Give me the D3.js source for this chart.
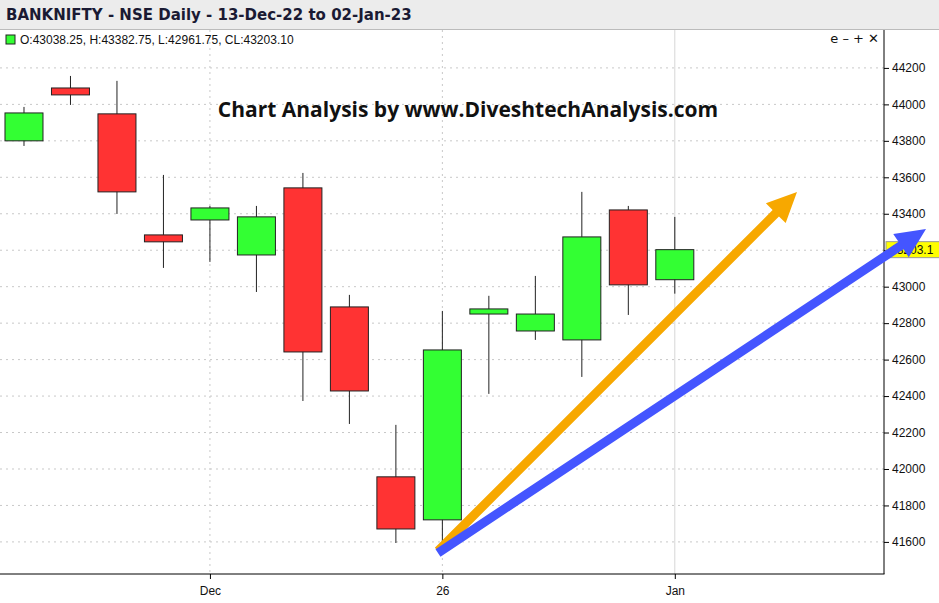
<!DOCTYPE html>
<html><head><meta charset="utf-8">
<script src="https://cdn.jsdelivr.net/npm/d3@7"></script>
<style>body{margin:0;background:#fff}svg{display:block}</style>
</head><body><svg id="c" width="939" height="603"></svg>
<script>
const dates=["13-Dec","14-Dec","15-Dec","16-Dec","19-Dec","20-Dec","21-Dec","22-Dec","23-Dec","26-Dec","27-Dec","28-Dec","29-Dec","30-Dec","02-Jan"];
const opens =[43800,44090,43948,43284,43366,43174,43542,42889,41957,41721,42850,42757,42708,43421,43038.25];
const highs =[43986,44156,44129,43613,43443,43443,43624,42955,42242,42867,42950,43059,43520,43443,43382.75];
const lows  =[43772,43997,43399,43103,43136,42971,42373,42247,41594,41605,42412,42708,42505,42845,42961.75];
const closes=[43953,44052,43520,43246,43432,43383,42642,42428,41671,42653,42878,42850,43273,43010,43203.10];
const yTicks=[41600,41800,42000,42200,42400,42600,42800,43000,43200,43400,43600,43800,44000,44200];
const xTickIdx=[4,9,14];
const xTickLabels=["Dec","26","Jan"];

const svg=d3.select("#c");
const L=0,R=884,T=30,B=574;
const x=d3.scaleLinear().domain([-0.516,18.5]).range([L,R]);
const y=d3.scaleLinear().domain([41424,44408]).range([B,T]);

// title bar
svg.append("rect").attr("x",0).attr("y",0).attr("width",939).attr("height",29).attr("fill","#ececec");
svg.append("text").attr("x",6).attr("y",20).attr("font-family","DejaVu Sans").attr("font-weight","bold")
 .attr("font-size",15).attr("fill","#1a1a33").text("BANKNIFTY - NSE Daily - 13-Dec-22 to 02-Jan-23");
svg.append("line").attr("x1",0).attr("x2",939).attr("y1",29.5).attr("y2",29.5).attr("stroke","#bbb");

// grid
const g=svg.append("g");
yTicks.forEach(v=>g.append("line").attr("x1",L).attr("x2",R).attr("y1",y(v)).attr("y2",y(v))
 .attr("stroke","#c8c8c8").attr("stroke-dasharray","2,4"));
xTickIdx.forEach((i,k)=>g.append("line").attr("x1",x(i)).attr("x2",x(i)).attr("y1",T).attr("y2",B)
 .attr("stroke",k==2?"#d6d6d6":"#c8c8c8").attr("stroke-dasharray",k==2?null:"2,4"));

// axes
const ya=d3.axisRight(y).tickValues(yTicks).tickSize(5).tickFormat(d3.format("d"));
const yg=svg.append("g").attr("transform",`translate(${R},0)`).call(ya);
yg.select(".domain").attr("d",`M0,${T}V${B}`);
yg.selectAll("text").attr("font-family","Liberation Sans, Arial").attr("font-size",12).attr("fill","#111");
const xa=d3.axisBottom(x).tickValues(xTickIdx).tickSize(5).tickFormat((d,i)=>xTickLabels[i]);
const xg=svg.append("g").attr("transform",`translate(0,${B})`).call(xa);
xg.select(".domain").attr("d",`M${L},0H${R+0.5}`);
xg.selectAll("text").attr("font-family","Liberation Sans, Arial").attr("font-size",12).attr("fill","#111").attr("dy","1.1em");

// candles
const bw=38;
const cg=svg.append("g");
dates.forEach((d,i)=>{
  const up=closes[i]>=opens[i];
  cg.append("line").attr("x1",x(i)).attr("x2",x(i)).attr("y1",y(highs[i])).attr("y2",y(lows[i])).attr("stroke","#222");
  const top=y(Math.max(opens[i],closes[i])),bot=y(Math.min(opens[i],closes[i]));
  cg.append("rect").attr("x",x(i)-bw/2).attr("y",top).attr("width",bw).attr("height",Math.max(1,bot-top))
   .attr("fill",up?"#33ff33":"#ff3333").attr("stroke","#222");
});

// legend
svg.append("rect").attr("x",6).attr("y",35).attr("width",9).attr("height",9).attr("fill","#33ff33").attr("stroke","#222");
const last=dates.length-1;
svg.append("text").attr("x",20).attr("y",44).attr("font-family","Liberation Sans, Arial").attr("font-size",12).attr("fill","#111")
 .text(`O:${opens[last].toFixed(2)}, H:${highs[last].toFixed(2)}, L:${lows[last].toFixed(2)}, CL:${closes[last].toFixed(2)}`);
svg.append("text").attr("x",879).attr("y",43).attr("text-anchor","end").attr("font-family","DejaVu Sans").attr("font-size",13).attr("fill","#111").text("e – + ✕");

// price label
svg.append("rect").attr("x",R+2).attr("y",y(closes[last])-8).attr("width",55).attr("height",16).attr("fill","#ffff00").attr("stroke","#999");
svg.append("text").attr("x",R+6).attr("y",y(closes[last])+4).attr("font-family","Liberation Sans, Arial").attr("font-size",12).attr("fill","#111").text(closes[last].toFixed(1));

// overlay text
svg.append("text").attr("x",468).attr("y",117).attr("text-anchor","middle").attr("font-family","Open Sans").attr("font-weight","bold")
 .attr("font-size",21).attr("fill","#111").text("Chart Analysis by www.DiveshtechAnalysis.com");

// arrows
function arrow(x1,y1,x2,y2,col){
  const a=Math.atan2(y2-y1,x2-x1),hl=30,hw=14,w=4.5;
  const bx=x2-hl*Math.cos(a),by=y2-hl*Math.sin(a),nx=-Math.sin(a),ny=Math.cos(a);
  svg.append("path").attr("fill",col).attr("d",
   `M${x1+nx*w},${y1+ny*w}L${bx+nx*w},${by+ny*w}L${bx+nx*hw},${by+ny*hw}L${x2},${y2}L${bx-nx*hw},${by-ny*hw}L${bx-nx*w},${by-ny*w}L${x1-nx*w},${y1-ny*w}Z`);
}
arrow(438,551,797,192,"#f7a800");
arrow(438,553,926,229,"#4455ff");
</script></body></html>
